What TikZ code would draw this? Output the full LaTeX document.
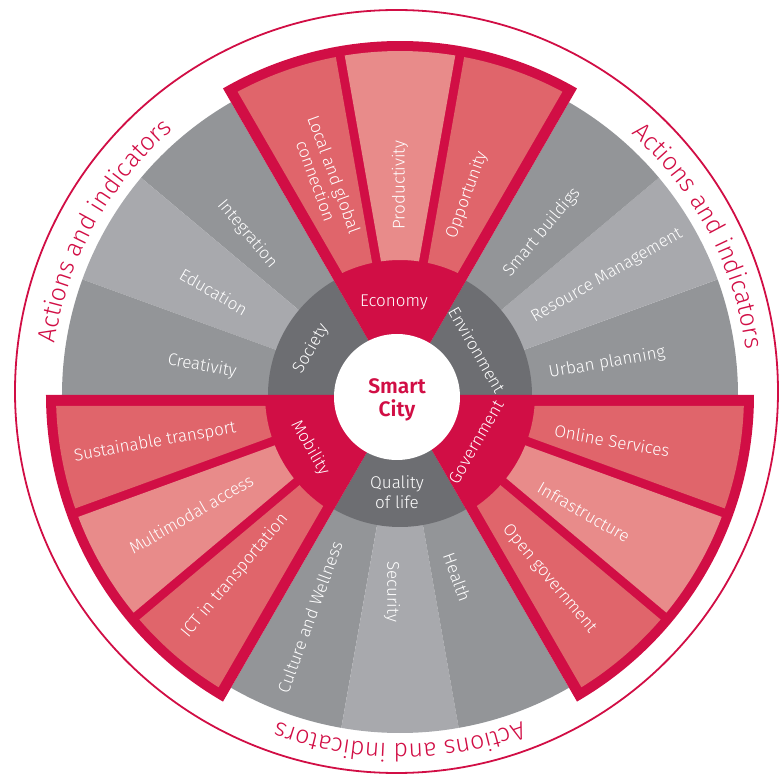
\documentclass[tikz,border=0pt]{standalone}
\usepackage{fontspec}
\setmainfont{Fira Sans Light}[BoldFont={Fira Sans SemiBold}]
\usepackage{tikz}
\usetikzlibrary{calc,decorations.text}

\definecolor{cityred}{RGB}{209,14,69}
\definecolor{pinkdark}{RGB}{224,101,107}
\definecolor{pinklight}{RGB}{232,139,138}
\definecolor{greydark}{RGB}{147,149,152}
\definecolor{greylight}{RGB}{168,169,173}
\definecolor{greyring}{RGB}{109,110,114}

% ring piece: colour, start angle, end angle, inner radius, outer radius
\newcommand{\ringpart}[5]{%
  \fill[#1] (#2:#4) -- (#2:#5) arc[start angle=#2, end angle=#3, radius=#5]
    -- (#3:#4) arc[start angle=#3, end angle=#2, radius=#4] -- cycle;}
% pink cell inside a red group: colour, start, end, inset at start, inset at end
\newcommand{\pinkcell}[5]{%
  \fill[#1] ({#2+asin(#4/135)}:135) -- ({#2+asin(#4/344)}:344)
    arc[start angle={#2+asin(#4/344)}, end angle={#3-asin(#5/344)}, radius=344]
    -- ({#3-asin(#5/135)}:135)
    arc[start angle={#3-asin(#5/135)}, end angle={#2+asin(#4/135)}, radius=135] -- cycle;}

\begin{document}
\begin{tikzpicture}[x=1pt,y=1pt,
  lbl/.style={text=white, inner sep=0pt, font=\fontsize{17}{19.5}\selectfont, align=center},
  cat/.style={text=white, inner sep=0pt, font=\fontsize{17}{19.5}\selectfont, align=center},
  arctext/.style={decorate, decoration={text along path, text align=center,
    text={|\fontsize{25}{27}\selectfont\color{cityred}|#1}}}]
\useasboundingbox (-400,-381) rectangle (380,395);

% grey indicator sectors
\ringpart{greydark}{120}{140}{1}{338}
\ringpart{greylight}{140}{160}{1}{338}
\ringpart{greydark}{160}{180}{1}{338}
\ringpart{greydark}{0}{20}{1}{338}
\ringpart{greylight}{20}{40}{1}{338}
\ringpart{greydark}{40}{60}{1}{338}
\ringpart{greydark}{240}{260}{1}{338}
\ringpart{greylight}{260}{280}{1}{338}
\ringpart{greydark}{280}{300}{1}{338}

% dark ring of the grey themes
\ringpart{greyring}{120}{180}{1}{132}
\ringpart{greyring}{0}{60}{1}{132}
\ringpart{greyring}{240}{300}{1}{132}

% red themes
\ringpart{cityred}{60}{120}{1}{354}
\ringpart{cityred}{180}{240}{1}{354}
\ringpart{cityred}{300}{360}{1}{354}

\pinkcell{pinkdark}{100}{120}{4.5}{11}
\pinkcell{pinklight}{80}{100}{4.5}{4.5}
\pinkcell{pinkdark}{60}{80}{11}{4.5}
\pinkcell{pinkdark}{180}{200}{11}{4.5}
\pinkcell{pinklight}{200}{220}{4.5}{4.5}
\pinkcell{pinkdark}{220}{240}{4.5}{11}
\pinkcell{pinkdark}{300}{320}{11}{4.5}
\pinkcell{pinklight}{320}{340}{4.5}{4.5}
\pinkcell{pinkdark}{340}{360}{4.5}{11}

% centre
\fill[white] (-3,-2) circle[radius=63];
\node[text=cityred, inner sep=0pt, align=center, font=\bfseries\fontsize{21}{23}\selectfont] (city) at (-3,-5) {Smart\\City};

% themes
\node[cat] (economy) at (-6,93) {Economy};
\node[cat, rotate=-60] (environment) at (77,45) {Environment};
\node[cat, rotate=60] (government) at (76,-47) {Government};
\node[cat] (quality) at (-3,-97) {Quality\\of life};
\node[cat, rotate=-60] (mobility) at (-90,-53) {Mobility};
\node[cat, rotate=60] (society) at (-89,46) {Society};

% indicators
\node[lbl, rotate=-10] (creativity) at (171.7:200) {Creativity};
\node[lbl, rotate=-30] (education) at (151:213) {Education};
\node[lbl, rotate=-50] (integration) at (133.5:222) {Integration};
\node[lbl, rotate=-70] (local) at (109:230) {Local and global\\connection};
\node[lbl, rotate=90] (productivity) at (90:210) {Productivity};
\node[lbl, rotate=70] (opportunity) at (71.5:211) {Opportunity};
\node[lbl, rotate=50] (buildings) at (48.9:216) {Smart buildigs};
\node[lbl, rotate=30] (resource) at (29.9:239) {Resource Management};
\node[lbl, rotate=10] (urban) at (8.8:209.5) {Urban planning};
\node[lbl, rotate=-10] (online) at (-12.2:217) {Online Services};
\node[lbl, rotate=-30] (infrastructure) at (-32.5:218) {Infrastructure};
\node[lbl, rotate=-50] (opengov) at (-51:237) {Open government};
\node[lbl, rotate=-70] (health) at (-72.6:191) {Health};
\node[lbl, rotate=-90] (security) at (-92.3:197) {Security};
\node[lbl, rotate=70] (culture) at (-112.1:239.5) {Culture and Wellness};
\node[lbl, rotate=50] (ict) at (-132.4:245) {ICT in transportation};
\node[lbl, rotate=30] (multimodal) at (-150.3:240.5) {Multimodal access};
\node[lbl, rotate=10] (sustainable) at (-169.1:249.5) {Sustainable transport};

% outer ring
\draw[cityred, line width=1.8pt] (-3.5,3.5) circle[radius=381.5];
\path[arctext={Actions and indicators}] (186:349) arc[start angle=186, end angle=116, radius=349];
\path[arctext={Actions and indicators}] (63:349) arc[start angle=63, end angle=-7, radius=349];
\path[arctext={Actions and indicators}] (305:349) arc[start angle=305, end angle=235, radius=349];
\end{tikzpicture}
\end{document}
